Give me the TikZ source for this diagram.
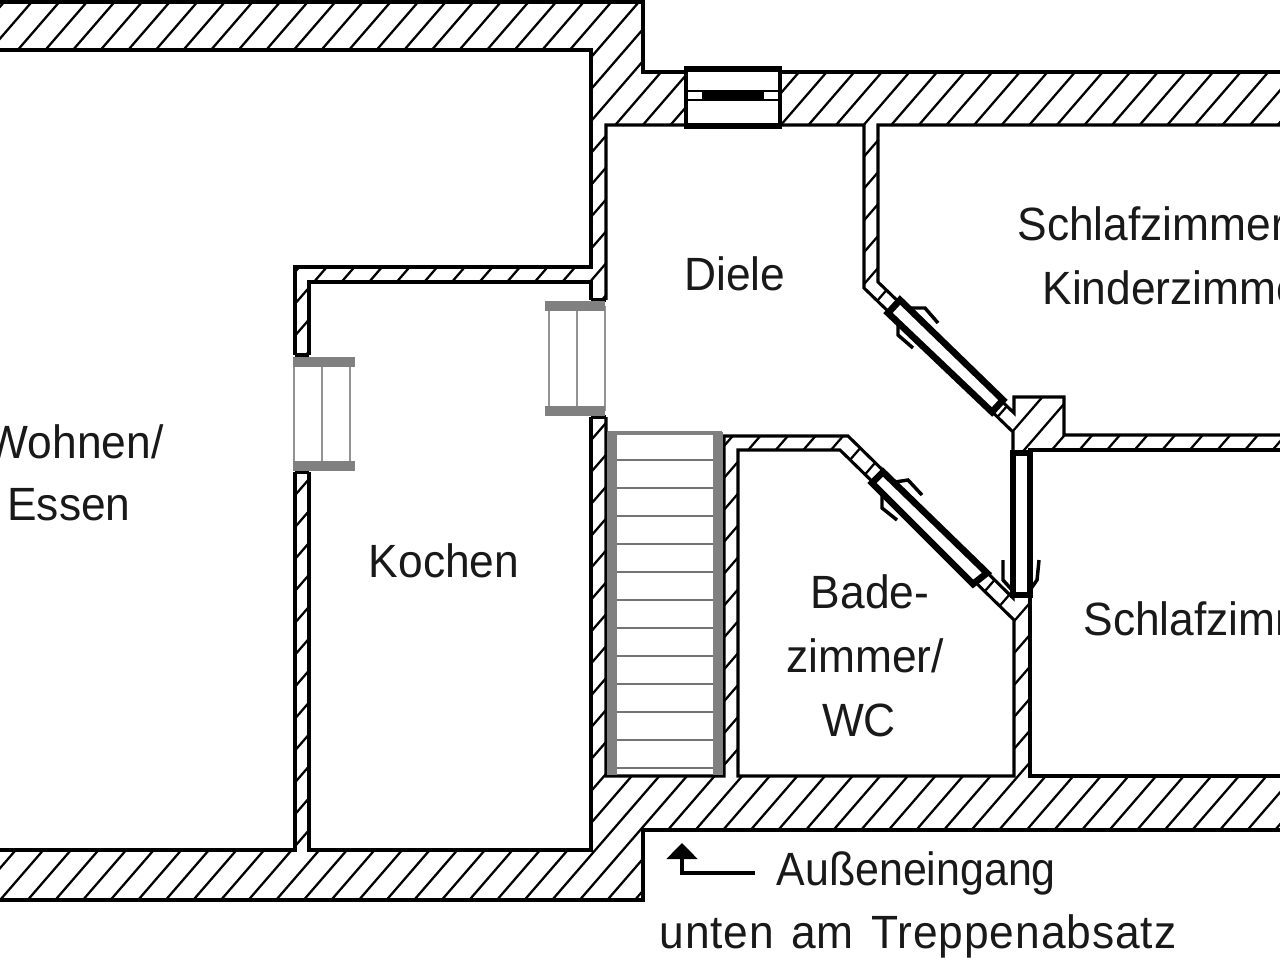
\documentclass[tikz,border=0pt]{standalone}
\usepackage{fontspec}
\usepackage{tikz}
\usetikzlibrary{arrows.meta}
\newfontfamily\planfont[FakeStretch=0.95]{Liberation Sans}
\newfontfamily\planfontnarrow[FakeStretch=0.92]{Liberation Sans}
\newfontfamily\planfontwide[FakeStretch=0.95,LetterSpace=2,WordSpace=1.3]{Liberation Sans}
\definecolor{framegrey}{rgb}{0.5,0.5,0.5}
\tikzset{every picture/.style={line width=2.3pt}}
\tikzset{
  wallline/.style={draw=black,line join=miter,fill=white},
  hatchline/.style={black,line width=1.7pt},
  frameline/.style={framegrey!85,line width=1.7pt},
  framebar/.style={framegrey,line width=7pt},
  doorleaf/.style={draw=black,line width=5pt,fill=white},
  doorhook/.style={black,line width=2.6pt},
  treadline/.style={black!55,line width=1.8pt},
  roomlabel/.style={font=\planfont\fontsize{35}{35}\selectfont,inner sep=0pt,text=black!90}
}

\begin{document}
\begin{tikzpicture}[x=0.75pt,y=0.75pt,yscale=-1,xscale=1]
		\useasboundingbox (0,0) rectangle (1280,961);
		
		%Shape: wall hatching
		\begin{scope}
		\clip (0,2) -- (643,2) -- (643,72) -- (1280,72) -- (1280,830) -- (643,830) -- (643,900) -- (0,900) -- cycle;
		\foreach \k in {-29,...,47}
			\draw [hatchline] ({1303-27.6*\k},0) -- ({1303-27.6*\k-0.865*961},961);
		\end{scope}
		%Shape: outer outline
		\draw (-5,2) -- (643,2) -- (643,72) -- (1285,72);
		\draw (1285,830) -- (643,830) -- (643,900) -- (-5,900);
		
		%Shape: rooms
		\draw [wallline] (-5,50) -- (591,50) -- (591,267) -- (295,267) -- (295,850) -- (-5,850) -- cycle;
		\draw [wallline] (309,282) -- (591,282) -- (591,850) -- (309,850) -- cycle;
		\draw [wallline] (606,125) -- (864,125) -- (864,288) -- (1013,432) -- (1013,598) -- (848,436) -- (724,436) -- (724,776) -- (606,776) -- cycle;
		\draw [wallline] (878,125) -- (1285,125) -- (1285,435) -- (1064,435) -- (1064,397) -- (1014,397) -- (1014,413) -- (878,282) -- cycle;
		\draw [wallline] (738,450) -- (840,450) -- (1014,620) -- (1014,776) -- (738,776) -- cycle;
		\draw [wallline] (1030,450) -- (1285,450) -- (1285,776) -- (1030,776) -- cycle;
		
		%Shape: wall openings
		\fill [white] (293,355) rectangle (311,472);
		\fill [white] (589,300) rectangle (608,417);
		\draw (295,355) -- (309,355);
		\draw (295,472) -- (309,472);
		\draw (591,300) -- (606,300);
		\draw (591,417) -- (606,417);
		
		%Shape: door frames
		\foreach \x in {294,322,350}
			\draw [frameline] (\x,362) -- (\x,466);
		\draw [framebar] (293,362) -- (355,362);
		\draw [framebar] (293,466) -- (355,466);
		\foreach \x in {549,577,605}
			\draw [frameline] (\x,306) -- (\x,411);
		\draw [framebar] (545,306) -- (605,306);
		\draw [framebar] (545,411) -- (605,411);
		
		%Shape: stairs
		\foreach \y in {460,488,...,768}
			\draw [treadline] (612,\y) -- (718,\y);
		\draw [framegrey,line width=2.4pt] (608,433) -- (722,433);
		\draw [framegrey,line width=8pt] (612,432) -- (612,775);
		\draw [framegrey,line width=8pt] (718,432) -- (718,775);
		
		%Shape: window
		\draw [wallline] (686,69) rectangle (780,126);
		\draw [line width=4.5pt] (684,69) -- (782,69);
		\draw [line width=4.5pt] (684,126) -- (782,126);
		\draw [line width=2pt] (686,91) -- (780,91);
		\draw [line width=2pt] (686,100) -- (780,100);
		\draw [line width=7pt] (702,96) -- (764,96);
		
		%Shape: doors with their hinges
		\draw [doorleaf] (900,300) -- (1003,400) -- (992,412) -- (888,313) -- cycle;
		\draw [doorhook] (908,308) -- (925,308) -- (938,323);
		\draw [doorhook] (898,322) -- (898,335) -- (913,348);
		
		\draw [doorleaf] (883,472) -- (987,573) -- (973,584) -- (872,483) -- cycle;
		\draw [doorhook] (895,482) -- (908,480) -- (922,495);
		\draw [doorhook] (882,493) -- (882,508) -- (897,520);
		
		\draw [doorleaf] (1013,453) rectangle (1030,595);
		\draw [doorhook] (1003,560) -- (1003,580) -- (1012,590);
		\draw [doorhook] (1039,560) -- (1037,580) -- (1030,590);
		
		%Straight Lines: entrance arrow
		\coordinate (entrytail) at (755,873);
		\coordinate (entrycorner) at (682,873);
		\coordinate (entryhead) at (682,843);
		\draw [-{Triangle[width=23pt,length=12pt]}] (entrytail) -- (entrycorner) -- (entryhead);
		
		% Text Node
		\draw (735,274) node (diele) [roomlabel] {Diele};
		% Text Node
		\draw (1016,240) node (schlafzimmerone) [roomlabel,anchor=base west] {Schlafzimmer};
		% Text Node
		\draw (1041,304) node (kinderzimmer) [roomlabel,anchor=base west] {Kinderzimmer};
		% Text Node
		\draw (165,458) node (wohnen) [roomlabel,anchor=base east] {Wohnen/};
		% Text Node
		\draw (69,505) node (essen) [roomlabel] {Essen};
		% Text Node
		\draw (444,561) node (kochen) [roomlabel] {Kochen};
		% Text Node
		\draw (870,592) node (bade) [roomlabel] {Bade-};
		% Text Node
		\draw (865,656) node (zimmer) [roomlabel] {zimmer/};
		% Text Node
		\draw (859,720) node (wc) [roomlabel] {WC};
		% Text Node
		\draw (1082,635) node (schlafzimmertwo) [roomlabel,anchor=base west] {Schlafzimmer};
		% Text Node
		\draw (775,885) node (aussen) [roomlabel,anchor=base west,font=\planfontnarrow\fontsize{35}{35}\selectfont] {Außeneingang};
		% Text Node
		\draw (658,948) node (treppe) [roomlabel,anchor=base west,font=\planfontwide\fontsize{35}{35}\selectfont] {unten am Treppenabsatz};
		
		\end{tikzpicture}
\end{document}
